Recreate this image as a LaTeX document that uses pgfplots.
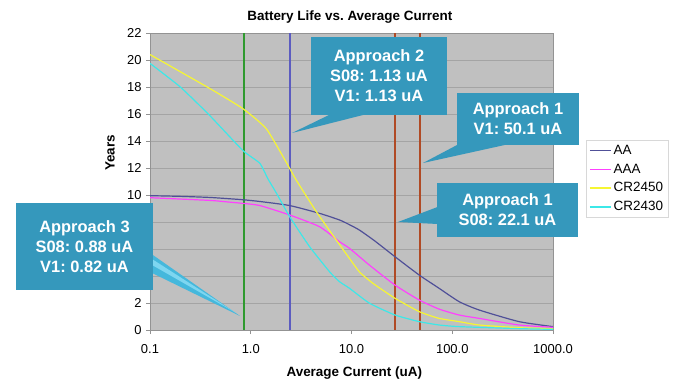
\documentclass[border=0pt]{standalone}
\usepackage{pgfplots}
\pgfplotsset{compat=1.18}
\usepackage{fontspec}
\setmainfont{Liberation Sans}
\frenchspacing
\definecolor{bgc}{HTML}{C0C0C0}
\definecolor{gridc}{HTML}{A4A4A4}
\definecolor{callout}{HTML}{3598BC}
\definecolor{pointer}{HTML}{45B8DC}
\definecolor{pointerhi}{HTML}{7ED6F0}
\definecolor{cAA}{HTML}{505098}
\definecolor{cAAA}{HTML}{FF40FF}
\definecolor{cCR50}{HTML}{F6F633}
\definecolor{cCR30}{HTML}{3CE8E8}
\definecolor{vgreen}{HTML}{2F9A2F}
\definecolor{vpurple}{HTML}{5C5CC0}
\definecolor{vbrown}{HTML}{B04A25}
\definecolor{legbord}{HTML}{D8D8D8}

\pgfplotstableread{
x y
0.1 9.95
0.2 9.9
0.39 9.82
0.62 9.72
0.834 9.65
1.23 9.52
2.43 9.22
4.82 8.64
7.6 8.15
9.55 7.8
12 7.4
17 6.6
27 5.43
47 4.07
74 3.09
117 2.1
185 1.48
460 0.62
1000 0.25
}\tAA

\pgfplotstableread{
x y
0.1 9.8
0.39 9.6
0.62 9.47
0.834 9.38
1.23 9.22
2.43 8.52
4.82 7.65
7.6 6.54
9.55 6.05
15.1 4.8
27 3.33
47 2.22
74 1.55
117 1.11
185 0.86
460 0.37
1000 0.2
}\tAAA

\pgfplotstableread{
x y
0.1 20.4
0.39 17.9
0.834 16.4
1.43 14.9
2.34 12.2
2.83 11.1
4.47 8.77
7.05 6.67
9.55 5.3
12 4.3
16.3 3.46
27 2.35
47 1.36
74 0.86
117 0.62
185 0.37
460 0.17
1000 0.1
}\tCRa

\pgfplotstableread{
x y
0.1 19.75
0.2 18.0
0.39 15.9
0.834 13.3
1.23 12.35
1.48 11.2
1.81 10.1
2.43 8.4
3.84 6.17
6.05 4.32
7.6 3.58
9.55 3.09
15.1 1.98
27 1.11
47 0.62
74 0.37
117 0.25
460 0.1
1000 0.05
}\tCRb

\begin{document}
\begin{tikzpicture}
\useasboundingbox (0,0) rectangle (680bp,383bp);
\begin{axis}[
  width=403bp, height=297bp, scale only axis,
  at={(150bp,53bp)}, anchor=south west,
  xmode=log, xmin=0.1, xmax=1000, ymin=0, ymax=22,
  xtick={0.1,1,10,100,1000}, xticklabels={0.1,1.0,10.0,100.0,1000.0},
  ytick={0,2,...,22},
  xminorticks=false, yminorticks=false,
  ymajorgrids, grid style={draw=gridc, line width=0.8bp},
  axis background/.style={fill=bgc},
  axis line style={draw=gray!85, line width=0.8bp},
  tick style={draw=gray!85, line width=0.6bp},
  tick align=outside, major tick length=4bp,
  xtick pos=bottom, ytick pos=left,
  tick label style={font=\fontsize{13}{15}\selectfont},
  xticklabel style={yshift=-7bp},
  yticklabel style={xshift=-1bp},
  /pgf/number format/assume math mode=true,
  title={Battery Life vs. Average Current},
  title style={font=\bfseries\fontsize{13.5}{16}\selectfont, at={(axis description cs:0.496,1.035)}, anchor=center},
  xlabel={Average Current (uA)},
  xlabel style={font=\bfseries\fontsize{13.5}{16}\selectfont, at={(axis description cs:0.507,-0.145)}, anchor=center},
  ylabel={Years},
  ylabel style={font=\bfseries\fontsize{13.5}{16}\selectfont, at={(axis description cs:-0.099,0.596)}, anchor=center},
  legend style={at={(axis description cs:1.082,0.64)}, anchor=north west, draw=legbord, fill=white,
    font=\fontsize{13.5}{15}\selectfont, row sep=4bp, inner sep=3bp},
  legend cell align=left,
  legend image code/.code={\draw[#1, line width=1.4bp] (0bp,0bp) -- (21bp,0bp);},
  every axis plot/.append style={line width=1.2bp},
]
\addplot[vgreen, line width=2bp, forget plot] coordinates {(0.853,0) (0.853,22)};
\addplot[vpurple, line width=1.8bp, forget plot] coordinates {(2.43,0) (2.43,22)};
\addplot[vbrown, line width=2bp, forget plot] coordinates {(27.1,0) (27.1,22)};
\addplot[vbrown, line width=2bp, forget plot] coordinates {(48.2,0) (48.2,22)};
\addplot[cAA, smooth, tension=0.35] table[x=x,y=y] {\tAA};
\addlegendentry{AA}
\addplot[cAAA, smooth, tension=0.35] table[x=x,y=y] {\tAAA};
\addlegendentry{AAA}
\addplot[cCR50, smooth, tension=0.3] table[x=x,y=y] {\tCRa};
\addlegendentry{CR2450}
\addplot[cCR30, smooth, tension=0.3] table[x=x,y=y] {\tCRb};
\addlegendentry{CR2430}
\end{axis}
\begin{scope}[x=1bp,y=1bp, calltext/.style={text=white, font=\bfseries\fontsize{16.5}{20}\selectfont, align=center, inner sep=0pt}]
% Approach 2
\fill[callout] (330,268.5) -- (292,250) -- (365,268.5) -- cycle;
\fill[callout] (311,268) rectangle (447,346);
\node[calltext] at (379,307) {Approach 2\\S08: 1.13 uA\\V1: 1.13 uA};
% Approach 1 V1
\fill[callout] (458,238.5) -- (423,220) -- (507,238.5) -- cycle;
\fill[callout] (457,238) rectangle (579,290);
\node[calltext] at (518,264) {Approach 1\\V1: 50.1 uA};
% Approach 1 S08
\fill[callout] (437.5,176) -- (398,161) -- (437.5,159) -- cycle;
\fill[callout] (437,146) rectangle (578,200);
\node[calltext] at (507.5,173) {Approach 1\\S08: 22.1 uA};
% Approach 3
\fill[pointer] (150,130) -- (240,67) -- (150,111) -- cycle;
\fill[pointerhi] (152,124) -- (236,70) -- (152,118) -- cycle;
\fill[callout] (16,93) rectangle (153,180);
\node[calltext] at (84.5,136.5) {Approach 3\\S08: 0.88 uA\\V1: 0.82 uA};
\end{scope}
\end{tikzpicture}
\end{document}
